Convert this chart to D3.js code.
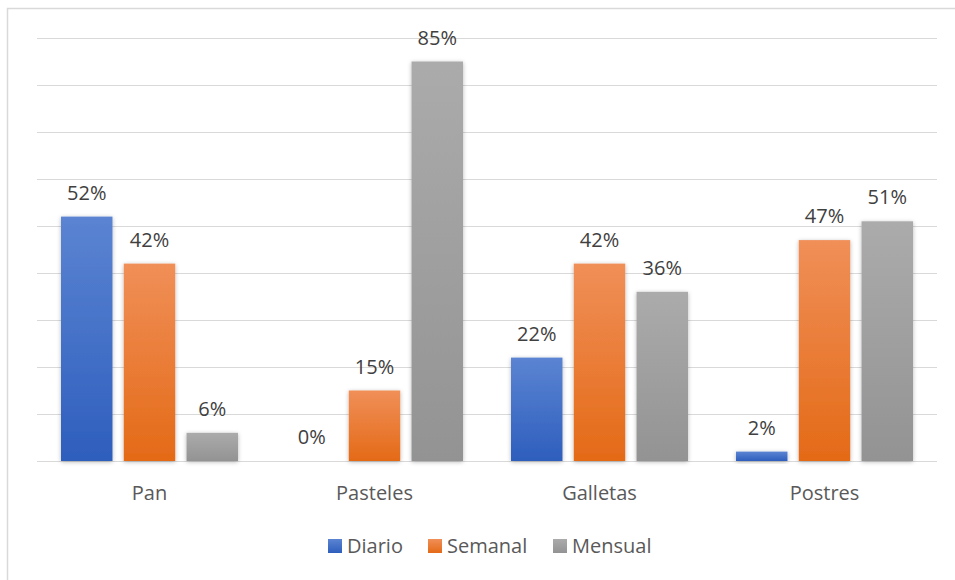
<!DOCTYPE html>
<html>
<head>
<meta charset="utf-8">
<script src="https://cdn.jsdelivr.net/npm/d3@7"></script>
<style>
  html, body { margin: 0; padding: 0; background: #ffffff; }
  svg { display: block; }
  text { font-family: "Open Sans", "Noto Sans", sans-serif; }
</style>
</head>
<body>
<svg id="chart" width="955" height="580"></svg>
<script>
const categories = ["Pan", "Pasteles", "Galletas", "Postres"];
const seriesNames = ["Diario", "Semanal", "Mensual"];
const diario  = [0.52, 0.00, 0.22, 0.02];
const semanal = [0.42, 0.15, 0.42, 0.47];
const mensual = [0.06, 0.85, 0.36, 0.51];
const yTicks = [0, 0.1, 0.2, 0.3, 0.4, 0.5, 0.6, 0.7, 0.8, 0.9];

const seriesValues = { Diario: diario, Semanal: semanal, Mensual: mensual };
const gradStops = {
  Diario:  ["#5b84d2", "#2e5ebd"],
  Semanal: ["#f08f58", "#e46a17"],
  Mensual: ["#ababab", "#939393"]
};

const svg = d3.select("#chart");
const defs = svg.append("defs");
seriesNames.forEach((s, i) => {
  const g = defs.append("linearGradient").attr("id", "grad" + i)
    .attr("x1", 0).attr("y1", 0).attr("x2", 0).attr("y2", 1);
  g.append("stop").attr("offset", "0%").attr("stop-color", gradStops[s][0]);
  g.append("stop").attr("offset", "100%").attr("stop-color", gradStops[s][1]);
});
const f = defs.append("filter").attr("id", "shadow")
  .attr("x", "-30%").attr("y", "-30%").attr("width", "160%").attr("height", "160%");
f.append("feDropShadow").attr("dx", 0).attr("dy", 1).attr("stdDeviation", 2)
  .attr("flood-color", "#000").attr("flood-opacity", 0.28);

// outer chart border
svg.append("rect").attr("x", 7.5).attr("y", 8.5).attr("width", 960).attr("height", 600)
  .attr("fill", "none").attr("stroke", "#d9d9d9").attr("stroke-width", 1.5);

const x0 = d3.scaleBand().domain(categories).range([37, 937]).padding(0);
const x1 = d3.scaleBand().domain(seriesNames).range([24, 201]).paddingInner(0.18).paddingOuter(0);
const y = d3.scaleLinear().domain([0, 0.9]).range([461, 38]);

// gridlines
svg.append("g").selectAll("line").data(yTicks).join("line")
  .attr("x1", 37).attr("x2", 937)
  .attr("y1", d => Math.round(y(d)) + 0.5).attr("y2", d => Math.round(y(d)) + 0.5)
  .attr("stroke", "#d9d9d9").attr("stroke-width", 1.2);

// bars
const groups = svg.append("g").selectAll("g").data(categories).join("g")
  .attr("transform", c => `translate(${x0(c)},0)`);

groups.selectAll("rect").data((c, ci) => seriesNames.map((s, si) => ({ s, si, v: seriesValues[s][ci] })))
  .join("rect")
  .attr("x", d => x1(d.s))
  .attr("width", x1.bandwidth())
  .attr("y", d => y(d.v))
  .attr("height", d => y(0) - y(d.v))
  .attr("fill", d => `url(#grad${d.si})`)
  .attr("filter", d => d.v > 0 ? "url(#shadow)" : null);

groups.selectAll("text").data((c, ci) => seriesNames.map((s, si) => ({ s, si, v: seriesValues[s][ci] })))
  .join("text")
  .attr("x", d => x1(d.s) + x1.bandwidth() / 2)
  .attr("y", d => y(d.v) - 17)
  .attr("text-anchor", "middle")
  .attr("font-size", 20)
  .attr("fill", "#404040")
  .text(d => d3.format(".0%")(d.v));

// x axis labels
const xAxis = d3.axisBottom(x0).tickSize(0).tickPadding(0);
const xg = svg.append("g").attr("transform", "translate(0,461)").call(xAxis);
xg.select(".domain").remove();
xg.selectAll("text")
  .attr("y", 39).attr("dy", null)
  .attr("font-size", 20)
  .attr("fill", "#595959")
  .style("font-family", "'Open Sans', 'Noto Sans', sans-serif");

// legend
const legendX = [328, 428, 553];
const lg = svg.append("g").selectAll("g").data(seriesNames).join("g")
  .attr("transform", (d, i) => `translate(${legendX[i]},0)`);
lg.append("rect").attr("x", 0).attr("y", 539).attr("width", 14).attr("height", 14)
  .attr("fill", (d, i) => `url(#grad${i})`);
lg.append("text").attr("x", 19).attr("y", 553)
  .attr("font-size", 20).attr("fill", "#595959").text(d => d);
</script>
</body>
</html>
